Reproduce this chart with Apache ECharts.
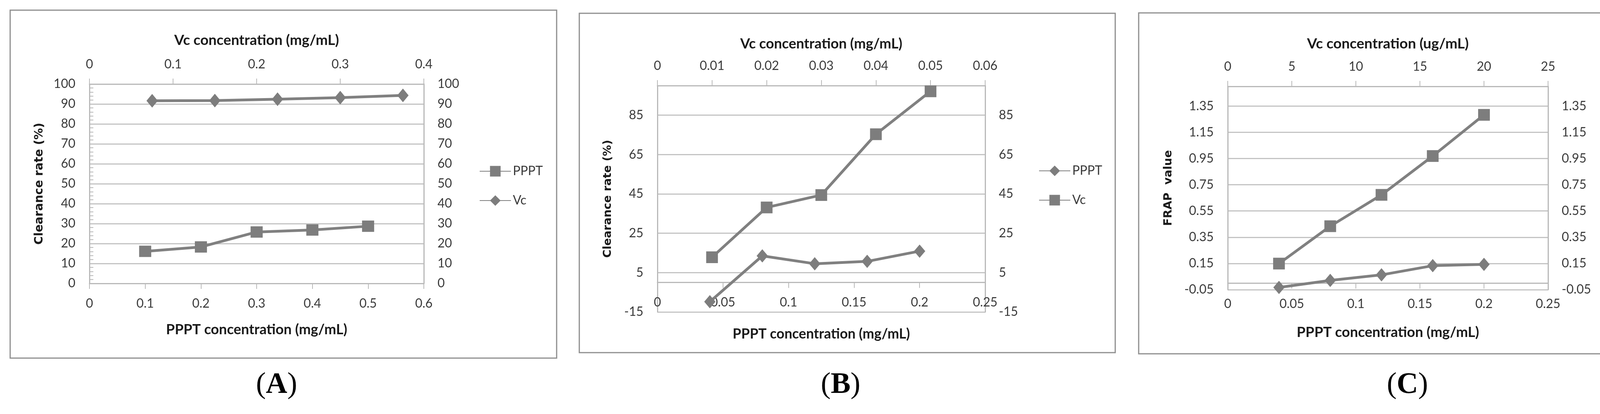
<!DOCTYPE html>
<html><head><meta charset="utf-8">
<script src="https://cdn.jsdelivr.net/npm/echarts@6/dist/echarts.min.js"></script>
<style>html,body{margin:0;padding:0;background:#fff}#c{width:4363px;height:1059px}</style>
</head><body><div id="c"></div>
<script>
// ---------------- data ----------------
const seriesNames = ['PPPT', 'Vc'];
const panelLetters = ['A', 'B', 'C'];
const topAxisTitles = ['Vc concentration (mg/mL)', 'Vc concentration (mg/mL)', 'Vc concentration (ug/mL)'];
const bottomAxisTitle = 'PPPT concentration (mg/mL)';
const yAxisTitles = ['Clearance rate (%)', 'Clearance rate (%)', 'FRAP  value'];

// Panel A: DPPH clearance
const aPpptConc = [0.1, 0.2, 0.3, 0.4, 0.5];
const aPpptRate = [16.1, 18.3, 25.8, 26.8, 28.7];
const aVcConc = [0.075, 0.15, 0.225, 0.3, 0.375];
const aVcRate = [91.6, 91.7, 92.4, 93.2, 94.3];
// Panel B
const bPpptConc = [0.04, 0.08, 0.12, 0.16, 0.2];
const bPpptRate = [-9.8, 13.5, 9.5, 10.7, 15.9];
const bVcConc = [0.01, 0.02, 0.03, 0.04, 0.05];
const bVcRate = [12.8, 38.1, 44.4, 75.3, 97.1];
// Panel C: FRAP
const cPpptConc = [0.04, 0.08, 0.12, 0.16, 0.2];
const cPpptFrap = [-0.033, 0.021, 0.063, 0.133, 0.143];
const cVcConc = [4, 8, 12, 16, 20];
const cVcFrap = [0.149, 0.434, 0.673, 0.969, 1.283];
// tick labels
const bRateTicks = [-15, 5, 25, 45, 65, 85];
const cFrapTicks = [-0.05, 0.15, 0.35, 0.55, 0.75, 0.95, 1.15, 1.35];

// ---------------- styling helpers ----------------
const SANS = 'Lato';
const LINE = '#808080';
const AXIS = '#b9b9b9';
const GRID = '#c4c4c4';
const TXT = '#3a3a3a';
const TICK_FS = 32;

function fit(text, weight, family, target) {
  const ctx = document.createElement('canvas').getContext('2d');
  ctx.font = weight + ' 100px "' + family + '"';
  return 100 * target / ctx.measureText(text).width;
}

const layout = [
  { grid: {left: 229, top: 215, width: 856, height: 510}, frame: [26, 26, 1399, 890],
    legend: {left: 1222, top: 416}, letter: [708, 985],
    topW: 422, botW: 464, yW: 312, topGap: 93, botGap: 100, botMargin: 36, yGap: 113 },
  { grid: {left: 1683, top: 219, width: 839, height: 579}, frame: [1483, 34, 1372, 868],
    legend: {left: 2654, top: 415}, letter: [2152, 985],
    topW: 415, botW: 454, yW: 302, topGap: 89, botGap: 39, botMargin: -40, yGap: 112 },
  { grid: {left: 3143, top: 221, width: 820, height: 520}, frame: [2915, 33, 1413, 872],
    legend: {left: 4121, top: 415}, letter: [3603, 985],
    topW: 414, botW: 467, yW: 194, topGap: 90, botGap: 91, botMargin: 21, yGap: 137 }
];

const axisRanges = [
  { bot: {min: 0, max: 0.6, interval: 0.1}, top: {min: 0, max: 0.4, interval: 0.1}, y: {min: 0, max: 100, interval: 10}, onZero: false },
  { bot: {min: 0, max: 0.25, interval: 0.05}, top: {min: 0, max: 0.06, interval: 0.01}, y: {min: -15, max: 100, custom: bRateTicks}, onZero: true },
  { bot: {min: 0, max: 0.25, interval: 0.05}, top: {min: 0, max: 25, interval: 5}, y: {min: -0.05, max: 1.5, custom: cFrapTicks}, onZero: true }
];

const panelSeries = [
  [ {x: aPpptConc, y: aPpptRate, sym: 'rect', size: [31, 29], onTop: false},
    {x: aVcConc, y: aVcRate, sym: 'diamond', size: [29, 35], onTop: true} ],
  [ {x: bPpptConc, y: bPpptRate, sym: 'diamond', size: [29, 34], onTop: false},
    {x: bVcConc, y: bVcRate, sym: 'rect', size: [30, 30], onTop: true} ],
  [ {x: cPpptConc, y: cPpptFrap, sym: 'diamond', size: [29, 34], onTop: false},
    {x: cVcConc, y: cVcFrap, sym: 'rect', size: [30, 30], onTop: true} ]
];

const labelStyle = {color: TXT, fontFamily: SANS, fontSize: TICK_FS};

const grid = [], xAxis = [], yAxis = [], series = [], legend = [], graphic = [];

layout.forEach((L, p) => {
  const R = axisRanges[p];
  grid.push(Object.assign({containLabel: false}, L.grid));
  const topFs = fit(topAxisTitles[p], 'bold', SANS, L.topW);
  const botFs = fit(bottomAxisTitle, 'bold', SANS, L.botW);
  const yFs = fit(yAxisTitles[p], 'bold', 'DejaVu Sans', L.yW);
  // bottom x axis (PPPT)
  xAxis.push({
    type: 'value', gridIndex: p, position: 'bottom',
    min: R.bot.min, max: R.bot.max, interval: R.bot.interval,
    name: bottomAxisTitle, nameLocation: 'middle', nameGap: L.botGap,
    nameTextStyle: {fontFamily: SANS, fontWeight: 'bold', fontSize: botFs, color: '#1a1a1a'},
    axisLine: {show: true, onZero: R.onZero, onZeroAxisIndex: R.onZero ? p * 2 : undefined, lineStyle: {color: AXIS, width: 3}},
    axisTick: {show: true, length: 14, lineStyle: {color: AXIS, width: 2}},
    axisLabel: Object.assign({margin: L.botMargin}, labelStyle),
    splitLine: {show: false}
  });
  // top x axis (Vc)
  xAxis.push({
    type: 'value', gridIndex: p, position: 'top',
    min: R.top.min, max: R.top.max, interval: R.top.interval,
    name: topAxisTitles[p], nameLocation: 'middle', nameGap: L.topGap,
    nameTextStyle: {fontFamily: SANS, fontWeight: 'bold', fontSize: topFs, color: '#1a1a1a'},
    axisLine: {show: true, onZero: false, lineStyle: {color: AXIS, width: 3}},
    axisTick: {show: true, length: 14, lineStyle: {color: AXIS, width: 2}},
    axisLabel: Object.assign({margin: 34}, labelStyle),
    splitLine: {show: false}
  });
  const yBase = {
    type: 'value', gridIndex: p, min: R.y.min, max: R.y.max
  };
  if (R.y.interval) yBase.interval = R.y.interval;
  const leftY = Object.assign({}, yBase, {
    position: 'left',
    name: yAxisTitles[p], nameLocation: 'middle', nameGap: L.yGap,
    nameTextStyle: {fontFamily: 'DejaVu Sans', fontWeight: 'bold', fontSize: yFs, color: '#1a1a1a'},
    axisLine: {show: true, onZero: false, lineStyle: {color: AXIS, width: 3}},
    axisTick: {show: false, inside: true},
    axisLabel: Object.assign({margin: 36}, labelStyle),
    splitLine: {show: true, lineStyle: {color: GRID, width: 3}}
  });
  const rightY = Object.assign({}, yBase, {
    position: 'right',
    axisLine: {show: true, onZero: false, lineStyle: {color: AXIS, width: 3}},
    axisTick: {show: false},
    axisLabel: Object.assign({margin: 35}, labelStyle),
    splitLine: {show: false}
  });
  if (R.y.custom) {
    leftY.axisTick.customValues = R.y.custom;
    leftY.axisLabel.customValues = R.y.custom;
    rightY.axisTick.customValues = R.y.custom;
    rightY.axisLabel.customValues = R.y.custom;
  }
  if (p === 0) {
    leftY.minorTick = {show: true, splitNumber: 5, length: 10, lineStyle: {color: AXIS, width: 2}};
  }
  yAxis.push(leftY, rightY);

  panelSeries[p].forEach((s, k) => {
    const name = panelLetters[p] + ':' + seriesNames[k];
    series.push({
      type: 'line', name: name,
      xAxisIndex: p * 2 + (s.onTop ? 1 : 0),
      yAxisIndex: p * 2 + (s.onTop ? 1 : 0),
      data: s.x.map((x, i) => [x, s.y[i]]),
      symbol: s.sym, symbolSize: s.size, showSymbol: true, clip: false,
      lineStyle: {color: LINE, width: 7},
      itemStyle: {color: '#7d7d7d'},
      z: 3, animation: false
    });
  });

  legend.push({
    orient: 'vertical', left: L.legend.left, top: L.legend.top,
    data: seriesNames.map(n => panelLetters[p] + ':' + n),
    formatter: n => n.split(':')[1],
    itemWidth: 80, itemHeight: 34, itemGap: 41,
    textStyle: {color: TXT, fontFamily: SANS, fontSize: 32, lineHeight: 34, padding: [0, 0, 0, 0]},
    selectedMode: false
  });

  graphic.push({
    type: 'rect', silent: true, z: 0,
    shape: {x: L.frame[0], y: L.frame[1], width: L.frame[2], height: L.frame[3]},
    style: {fill: 'none', stroke: '#8e8e8e', lineWidth: 3}
  });
  graphic.push({
    type: 'text', silent: true,
    x: L.letter[0], y: L.letter[1],
    style: {
      text: '{p|(}{b|' + panelLetters[p] + '}{p|)}',
      align: 'center', verticalAlign: 'middle',
      rich: {
        p: {fontFamily: 'Liberation Serif', fontSize: 76, fill: '#000', fontWeight: 'normal'},
        b: {fontFamily: 'Liberation Serif', fontSize: 76, fill: '#000', fontWeight: 'bold'}
      }
    }
  });
});

const chart = echarts.init(document.getElementById('c'), null, {renderer: 'canvas'});
chart.setOption({
  backgroundColor: '#fff',
  animation: false,
  grid, xAxis, yAxis, series, legend, graphic
});
</script></body></html>
